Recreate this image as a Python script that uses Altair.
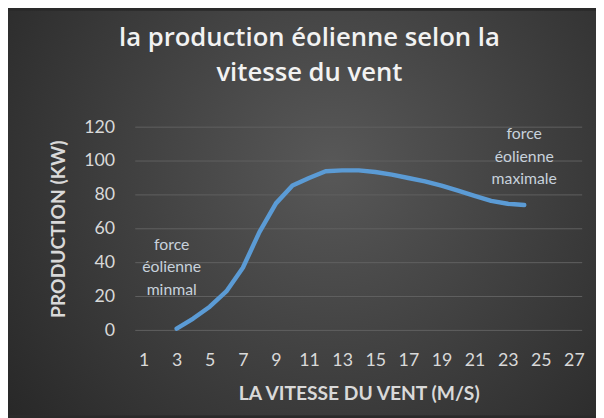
import altair as alt
import pandas as pd

# ---- data ----
wind_speed = [3, 4, 5, 6, 7, 8, 9, 10, 11, 12, 13, 14, 15, 16, 17, 18, 19, 20, 21, 22, 23, 24]
production = [1, 7, 14, 23, 37, 58, 75, 85.5, 90, 94, 94.5, 94.5, 93.5, 92, 90, 88, 85.5, 82.5, 79.5, 76.5, 74.8, 74]

x_ticks = list(range(1, 28, 2))
y_ticks = [0, 20, 40, 60, 80, 100, 120]

ann_x = [2.7, 24]
ann_y = [50.6, 116]
ann_text = ["force\néolienne\nminmal", "force\néolienne\nmaximale"]

title_lines = ["la production éolienne selon la", "vitesse du vent"]
x_title = "LA VITESSE DU VENT (M/S)"
y_title = "PRODUCTION (KW)"

W, H = 453, 206
PAD = {"left": 129, "top": 118, "right": 14, "bottom": 86}

df = pd.DataFrame({"speed": wind_speed, "prod": production})
grid_df = pd.DataFrame({"g": y_ticks})
ann_df = pd.DataFrame({"x": ann_x, "y": ann_y, "t": ann_text})
bg_df = pd.DataFrame({"k": [0]})

xscale = alt.Scale(domain=[0.5, 27.5], nice=False, zero=False)
yscale = alt.Scale(domain=[0, 120], nice=False)

bg = alt.Chart(bg_df).mark_rect(
    fill={
        "gradient": "radial",
        "x1": 0.55, "y1": 0.42, "r1": 0,
        "x2": 0.55, "y2": 0.42, "r2": 0.75,
        "stops": [
            {"offset": 0, "color": "#585858"},
            {"offset": 1, "color": "#242424"},
        ],
    },
    stroke=None,
).encode(
    x=alt.value(-PAD["left"]),
    x2=alt.value(W + PAD["right"]),
    y=alt.value(-PAD["top"]),
    y2=alt.value(H + PAD["bottom"]),
)

y_axis = alt.Axis(
    values=y_ticks, grid=False, domain=False, ticks=False, tickSize=0,
    labelPadding=21, labelFontSize=18, labelColor="#d9d9d9", labelFont="Lato",
    labelOverlap=False,
    title=y_title, titleFont="Lato", titleFontSize=19.5, titleFontWeight="bold",
    titleColor="#d9d9d9", titlePadding=15, zindex=1,
)

x_axis = alt.Axis(
    values=x_ticks, grid=False, domain=False, ticks=False, tickSize=0,
    labelPadding=22, labelFontSize=18, labelColor="#d9d9d9", labelFont="Lato",
    labelOverlap=False, labelFlush=False,
    title=x_title, titleFont="Lato", titleFontSize=19.5, titleFontWeight="bold",
    titleColor="#d9d9d9", titlePadding=15, zindex=1,
)

grid = alt.Chart(grid_df).mark_rule(color="#616161", strokeWidth=1).encode(
    y=alt.Y("g:Q", scale=yscale, axis=y_axis)
)

line = alt.Chart(df).mark_line(
    color="#5b9bd5", strokeWidth=4.5, strokeCap="round", strokeJoin="round"
).encode(
    x=alt.X("speed:Q", scale=xscale, axis=x_axis),
    y=alt.Y("prod:Q", scale=yscale, axis=y_axis),
)

ann = alt.Chart(ann_df).mark_text(
    lineBreak="\n", lineHeight=23, fontSize=16, font="Lato",
    color="#c8d2dc", align="center", baseline="middle",
).encode(
    x=alt.X("x:Q", scale=xscale, axis=x_axis),
    y=alt.Y("y:Q", scale=yscale, axis=y_axis),
    text="t:N",
)

chart = alt.layer(bg, grid, line, ann).properties(
    width=W,
    height=H,
    padding=PAD,
    autosize=alt.AutoSizeParams(type="none"),
    background="#2a2a2a",
    title=alt.TitleParams(
        text=title_lines, font="Open Sans", fontSize=26, fontWeight=600,
        color="#f2f2f2", anchor="middle", frame="group", dx=-50, offset=30,
        dy=106, lineHeight=35, zindex=1,
    ),
).configure_view(stroke=None).configure_axis(labelOverlap=False)

chart.save("out.html", embed_options={"renderer": "svg", "actions": False})
